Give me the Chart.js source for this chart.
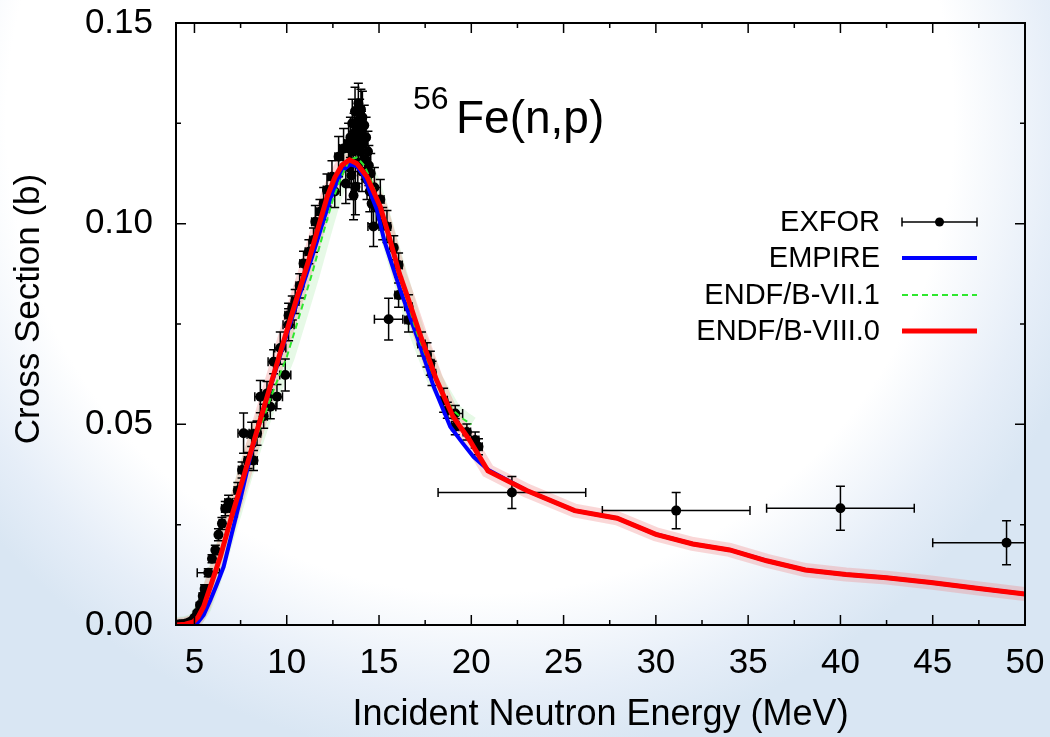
<!DOCTYPE html>
<html lang="en">
<head>
<meta charset="utf-8">
<title>56Fe(n,p) cross section</title>
<script src="https://cdn.jsdelivr.net/npm/chart.js@4.4.1/dist/chart.umd.min.js"></script>
<style>
  html, body { margin: 0; padding: 0; }
  body {
    width: 1050px;
    height: 737px;
    overflow: hidden;
    background: radial-gradient(ellipse 640px 640px at 480px 120px, #ffffff 74%, #e6eef8 90%, #d9e6f3 100%);
  }
  #xsChart { display: block; }
</style>
</head>
<body>
<canvas id="xsChart" width="1050" height="737"></canvas>
<script>
// EXFOR measurements (MeV, barn) with errors
const exforEnergy = [
    3.95, 4.1, 4.25, 4.4, 4.55, 4.7, 4.85, 5.0, 5.15, 5.3,
    5.45, 5.55, 5.75, 5.95, 6.13, 6.3, 6.49, 6.67, 6.85, 7.12,
    7.35, 7.58, 7.66, 7.9, 8.1, 8.2, 8.39, 8.57, 8.75, 8.93,
    9.11, 9.29, 9.47, 9.65, 9.92, 10.1, 10.1, 10.3, 10.46, 10.7,
    10.91, 11.2, 11.45, 11.55, 11.8, 12.0, 12.18, 12.45, 12.6, 12.81,
    13.08, 13.2, 13.35, 13.4, 13.45, 13.5, 13.55, 13.6, 13.62, 13.65,
    13.7, 13.72, 13.75, 13.8, 13.85, 13.88, 13.9, 13.95, 14.0, 14.02,
    14.05, 14.08, 14.1, 14.15, 14.2, 14.25, 14.3, 14.35, 14.4, 14.45,
    14.5, 14.55, 14.6, 14.7, 14.75, 14.85, 15.07, 15.2, 15.43, 15.52,
    15.8, 16.06, 16.06, 16.6, 16.6, 17.3, 17.6, 17.78, 17.87, 18.5,
    18.7, 19.13, 19.13, 19.76, 20.21, 20.39, 22.2, 31.1, 40.0, 49.0
];
const exforXS = [
    0.0000, 0.0001, 0.0002, 0.0002, 0.0004, 0.0006, 0.0010, 0.0018, 0.0030, 0.0050,
    0.0072, 0.0090, 0.0130, 0.0165, 0.0187, 0.0225, 0.0253, 0.0290, 0.0305, 0.0290,
    0.0335, 0.0386, 0.0478, 0.0410, 0.0475, 0.0410, 0.0478, 0.0569, 0.0520, 0.0577,
    0.0544, 0.0656, 0.0569, 0.0690, 0.0623, 0.0748, 0.0772, 0.0790, 0.0806, 0.0845,
    0.0901, 0.0930, 0.0959, 0.1005, 0.1030, 0.1050, 0.1084, 0.1117, 0.1080, 0.1167,
    0.1187, 0.1100, 0.1200, 0.1140, 0.1215, 0.1120, 0.1250, 0.1180, 0.1070, 0.1225,
    0.1280, 0.1092, 0.1195, 0.1240, 0.1150, 0.1300, 0.1210, 0.1260, 0.1180, 0.1285,
    0.1230, 0.1130, 0.1265, 0.1200, 0.1245, 0.1160, 0.1215, 0.1110, 0.1180, 0.1145,
    0.1080, 0.1125, 0.1050, 0.0993, 0.1090, 0.1040, 0.1060, 0.1000, 0.0993, 0.0762,
    0.0940, 0.0897, 0.0822, 0.0793, 0.0760, 0.0700, 0.0673, 0.0652, 0.0627, 0.0560,
    0.0535, 0.0527, 0.0494, 0.0481, 0.0461, 0.0444, 0.0330, 0.0285, 0.0291, 0.0205
];
const exforEnergyErr = [
    0.05, 0.05, 0.05, 0.05, 0.05, 0.05, 0.05, 0.05, 0.1, 0.1,
    0.1, 0.1, 0.6, 0.1, 0.1, 0.1, 0.15, 0.2, 0.2, 0.2,
    0.2, 0.2, 0.3, 0.2, 0.25, 0.2, 0.2, 0.3, 0.2, 0.3,
    0.3, 0.3, 0.3, 0.3, 0.3, 0.3, 0.2, 0.2, 0.2, 0.2,
    0.2, 0.2, 0.2, 0.2, 0.2, 0.2, 0.2, 0.2, 0.3, 0.2,
    0.2, 0.3, 0.2, 0.1, 0.1, 0.1, 0.1, 0.1, 0.15, 0.1,
    0.1, 0.2, 0.1, 0.1, 0.1, 0.15, 0.1, 0.1, 0.1, 0.1,
    0.1, 0.1, 0.1, 0.1, 0.1, 0.1, 0.1, 0.1, 0.1, 0.1,
    0.1, 0.1, 0.1, 0.3, 0.1, 0.1, 0.2, 0.1, 0.2, 0.77,
    0.15, 0.2, 0.2, 0.2, 0.2, 0.2, 0.2, 0.2, 0.2, 0.2,
    0.2, 0.4, 0.2, 0.2, 0.2, 0.2, 4.0, 4.0, 4.0, 4.0
];
const exforXSErr = [
    0.0003, 0.0003, 0.0003, 0.0003, 0.0003, 0.0003, 0.0003, 0.0004, 0.0005, 0.0006,
    0.0008, 0.0010, 0.0010, 0.0010, 0.0012, 0.0015, 0.0015, 0.0018, 0.0018, 0.0020,
    0.0020, 0.0020, 0.0050, 0.0020, 0.0030, 0.0025, 0.0030, 0.0040, 0.0030, 0.0030,
    0.0030, 0.0030, 0.0030, 0.0040, 0.0040, 0.0040, 0.0030, 0.0030, 0.0030, 0.0030,
    0.0030, 0.0030, 0.0030, 0.0040, 0.0030, 0.0040, 0.0040, 0.0040, 0.0040, 0.0050,
    0.0050, 0.0050, 0.0050, 0.0050, 0.0050, 0.0060, 0.0060, 0.0050, 0.0060, 0.0050,
    0.0060, 0.0070, 0.0050, 0.0050, 0.0050, 0.0050, 0.0050, 0.0050, 0.0050, 0.0050,
    0.0050, 0.0050, 0.0065, 0.0050, 0.0050, 0.0050, 0.0050, 0.0050, 0.0050, 0.0050,
    0.0050, 0.0050, 0.0050, 0.0050, 0.0050, 0.0050, 0.0050, 0.0040, 0.0040, 0.0052,
    0.0030, 0.0030, 0.0030, 0.0030, 0.0030, 0.0030, 0.0030, 0.0030, 0.0030, 0.0030,
    0.0020, 0.0020, 0.0020, 0.0020, 0.0020, 0.0020, 0.0040, 0.0045, 0.0055, 0.0055
];

// EMPIRE calculation
const empireEnergy = [
    3.96, 4.5, 5.0, 5.14, 5.5, 5.86, 6.2, 6.58, 7.03, 7.48,
    8.03, 8.6, 9.2, 9.8, 10.5, 11.1, 11.6, 12.0, 12.4, 12.72,
    13.1, 13.44, 13.8, 14.16, 14.5, 14.89, 15.3, 16.15, 17.06, 17.96,
    18.86, 19.5, 20.12, 20.93, 23.0, 25.6, 27.9, 30.0, 32.0, 34.0,
    36.0, 38.1, 40.3, 42.5, 44.9, 47.5, 50.0
];
const empireXS = [
    0.0, 0.0001, 0.0002, 0.0004, 0.0025, 0.0062, 0.0100, 0.0145, 0.0229, 0.0312,
    0.0420, 0.0515, 0.0605, 0.0695, 0.0795, 0.0878, 0.0950, 0.1010, 0.1065, 0.1105,
    0.1135, 0.1148, 0.1143, 0.1120, 0.1080, 0.1034, 0.0955, 0.0835, 0.0718, 0.0594,
    0.0494, 0.0455, 0.0419, 0.0386, 0.0335, 0.0285, 0.0266, 0.0226, 0.0202, 0.0187,
    0.0160, 0.0137, 0.0126, 0.0118, 0.0106, 0.0091, 0.0077
];

// ENDF/B-VII.1 evaluation
const vii1Energy = [
    3.96, 4.5, 5.0, 5.5, 5.9, 6.4, 7.12, 7.85, 8.57, 9.29,
    10.01, 10.73, 11.4, 12.0, 12.5, 13.0, 13.4, 13.8, 14.2, 14.6,
    15.0, 15.5, 16.0, 17.0, 18.0, 19.0, 19.6, 20.0
];
const vii1XS = [
    0.0, 0.0002, 0.0009, 0.0045, 0.0095, 0.0170, 0.0278, 0.0394, 0.0494, 0.0586,
    0.0669, 0.0777, 0.0880, 0.0980, 0.1060, 0.1120, 0.1160, 0.1165, 0.1145, 0.1105,
    0.1050, 0.0970, 0.0890, 0.0735, 0.0615, 0.0535, 0.0512, 0.0500
];

// ENDF/B-VIII.0 evaluation
const viii0Energy = [
    3.96, 4.5, 4.95, 5.2, 5.5, 5.86, 6.4, 7.0, 7.7, 8.4,
    9.1, 9.8, 10.5, 11.2, 11.8, 12.2, 12.6, 13.0, 13.4, 13.8,
    14.35, 15.07, 15.6, 16.1, 16.6, 17.2, 18.1, 19.0, 19.9, 20.9,
    23.0, 25.6, 27.9, 30.0, 32.0, 34.0, 36.0, 38.1, 40.3, 42.5,
    44.9, 47.5, 50.0
];
const viii0XS = [
    0.0, 0.0002, 0.0008, 0.0020, 0.0046, 0.0095, 0.0170, 0.0268, 0.0375, 0.0486,
    0.0594, 0.0702, 0.0808, 0.0910, 0.1005, 0.1068, 0.1115, 0.1146, 0.1159, 0.1150,
    0.1117, 0.1042, 0.0959, 0.0876, 0.0810, 0.0727, 0.0612, 0.0520, 0.0461, 0.0384,
    0.0335, 0.0285, 0.0266, 0.0226, 0.0202, 0.0187, 0.0160, 0.0137, 0.0126, 0.0118,
    0.0106, 0.0091, 0.0077
];

// axes
const xTickValues = [5, 10, 15, 20, 25, 30, 35, 40, 45, 50];
const xMinorTicks = [7.5, 12.5, 17.5, 22.5, 27.5, 32.5, 37.5, 42.5, 47.5];
const yTickValues = [0, 0.05, 0.10, 0.15];
const yMinorTicks = [0.025, 0.075, 0.125];

const FONT = "'Liberation Sans', Arial, Helvetica, sans-serif";
const CAP = 4.5;

const toPoints = (xs, ys) => xs.map((x, i) => ({ x: x, y: ys[i] }));

// the frame is placed by layout padding alone
const noScalePadding = s => {
    s.paddingTop = 0;
    s.paddingBottom = 0;
    s.paddingLeft = 0;
    s.paddingRight = 0;
};

// error bars drawn under the EXFOR markers
const errorBarPlugin = {
    id: 'errorBars',
    beforeDatasetDraw(chart, args) {
        if (chart.data.datasets[args.index].label !== 'EXFOR') return;
        const { ctx, chartArea: area } = chart;
        const xs = chart.scales.x, ys = chart.scales.y;
        ctx.save();
        ctx.beginPath();
        ctx.rect(area.left, area.top, area.right - area.left, area.bottom - area.top);
        ctx.clip();
        ctx.strokeStyle = '#000';
        ctx.lineWidth = 1.5;
        ctx.beginPath();
        exforEnergy.forEach((e, i) => {
            const px = xs.getPixelForValue(e);
            const py = ys.getPixelForValue(exforXS[i]);
            const x0 = xs.getPixelForValue(e - exforEnergyErr[i]);
            const x1 = xs.getPixelForValue(e + exforEnergyErr[i]);
            const y0 = ys.getPixelForValue(exforXS[i] - exforXSErr[i]);
            const y1 = ys.getPixelForValue(exforXS[i] + exforXSErr[i]);
            // horizontal bar + caps
            ctx.moveTo(x0, py); ctx.lineTo(x1, py);
            ctx.moveTo(x0, py - CAP); ctx.lineTo(x0, py + CAP);
            ctx.moveTo(x1, py - CAP); ctx.lineTo(x1, py + CAP);
            // vertical bar + caps
            ctx.moveTo(px, y0); ctx.lineTo(px, y1);
            ctx.moveTo(px - CAP, y0); ctx.lineTo(px + CAP, y0);
            ctx.moveTo(px - CAP, y1); ctx.lineTo(px + CAP, y1);
        });
        ctx.stroke();
        ctx.restore();
    }
};

// gnuplot-like frame with inward ticks on all four sides
const framePlugin = {
    id: 'frame',
    afterDatasetsDraw(chart) {
        const { ctx, chartArea: a } = chart;
        const xs = chart.scales.x, ys = chart.scales.y;
        ctx.save();
        ctx.strokeStyle = '#000';
        ctx.lineWidth = 1.5;
        ctx.beginPath();
        const xTick = (v, len) => {
            const p = xs.getPixelForValue(v);
            ctx.moveTo(p, a.bottom); ctx.lineTo(p, a.bottom - len);
            ctx.moveTo(p, a.top); ctx.lineTo(p, a.top + len);
        };
        const yTick = (v, len) => {
            const p = ys.getPixelForValue(v);
            ctx.moveTo(a.left, p); ctx.lineTo(a.left + len, p);
            ctx.moveTo(a.right, p); ctx.lineTo(a.right - len, p);
        };
        xTickValues.forEach(v => xTick(v, 10));
        xMinorTicks.forEach(v => xTick(v, 5));
        yTickValues.forEach(v => yTick(v, 10));
        yMinorTicks.forEach(v => yTick(v, 5));
        ctx.stroke();
        ctx.lineWidth = 2;
        ctx.strokeRect(a.left, a.top, a.right - a.left, a.bottom - a.top);
        ctx.restore();
    }
};

// reaction label, y title and the right-aligned legend
const labelPlugin = {
    id: 'labels',
    afterDraw(chart) {
        const ctx = chart.ctx;
        ctx.save();
        ctx.fillStyle = '#000';
        ctx.textBaseline = 'alphabetic';

        // 56Fe(n,p)
        ctx.textAlign = 'left';
        ctx.font = '32px ' + FONT;
        ctx.fillText('56', 413, 109);
        ctx.font = '46px ' + FONT;
        ctx.fillText('Fe(n,p)', 456, 133);

        // y axis title
        ctx.save();
        ctx.translate(29, 309);
        ctx.rotate(-Math.PI / 2);
        ctx.textAlign = 'center';
        ctx.textBaseline = 'middle';
        ctx.font = '35px ' + FONT;
        ctx.fillText('Cross Section (b)', 0, 0);
        ctx.restore();

        // legend
        const rows = ['EXFOR', 'EMPIRE', 'ENDF/B-VII.1', 'ENDF/B-VIII.0'];
        const rowY = [222, 258, 295, 331];
        const x0 = 902, x1 = 977;
        ctx.font = '29px ' + FONT;
        ctx.textAlign = 'right';
        ctx.textBaseline = 'middle';
        rows.forEach((label, i) => {
            const ds = chart.data.datasets.find(d => d.label === label);
            const y = rowY[i];
            ctx.fillStyle = '#000';
            ctx.fillText(label, 880, y + 1);
            ctx.save();
            if (label === 'EXFOR') {
                ctx.strokeStyle = '#000';
                ctx.lineWidth = 1.5;
                ctx.beginPath();
                ctx.moveTo(x0, y); ctx.lineTo(x1, y);
                ctx.moveTo(x0, y - CAP); ctx.lineTo(x0, y + CAP);
                ctx.moveTo(x1, y - CAP); ctx.lineTo(x1, y + CAP);
                ctx.stroke();
                ctx.beginPath();
                ctx.arc((x0 + x1) / 2, y, 4.5, 0, Math.PI * 2);
                ctx.fill();
            } else {
                ctx.strokeStyle = ds.borderColor;
                ctx.lineWidth = ds.borderWidth;
                ctx.setLineDash(ds.borderDash || []);
                ctx.beginPath();
                ctx.moveTo(x0, y); ctx.lineTo(x1, y);
                ctx.stroke();
            }
            ctx.restore();
        });
        ctx.restore();
    }
};

const lineStyle = { showLine: true, pointRadius: 0, pointHoverRadius: 0, fill: false, tension: 0 };

const xsChart = new Chart(document.getElementById('xsChart'), {
    type: 'line',
    data: {
        datasets: [
            Object.assign({ label: 'ENDF/B-VIII.0', data: toPoints(viii0Energy, viii0XS),
                borderColor: '#ff0000', borderWidth: 5, order: 0 }, lineStyle),
            Object.assign({ label: 'ENDF/B-VII.1', data: toPoints(vii1Energy, vii1XS),
                borderColor: '#2ee82e', borderWidth: 2, borderDash: [6, 4], order: 1 }, lineStyle),
            Object.assign({ label: 'EMPIRE', data: toPoints(empireEnergy, empireXS),
                borderColor: '#0000ff', borderWidth: 4, order: 2 }, lineStyle),
            {
                label: 'EXFOR', data: toPoints(exforEnergy, exforXS),
                showLine: false, pointRadius: 5, pointHoverRadius: 5,
                pointBackgroundColor: '#000', pointBorderColor: '#000', pointBorderWidth: 0,
                order: 3
            },
            // uncertainty bands
            Object.assign({ label: 'VIII.0 band', data: toPoints(viii0Energy, viii0XS),
                borderColor: 'rgba(238, 130, 130, 0.32)', borderWidth: 14, order: 4 }, lineStyle),
            Object.assign({ label: 'VII.1 band', data: toPoints(vii1Energy, vii1XS),
                borderColor: 'rgba(130, 225, 130, 0.2)', borderWidth: 16, order: 5 }, lineStyle)
        ]
    },
    options: {
        responsive: false,
        animation: false,
        devicePixelRatio: 1,
        layout: { padding: { top: 23, right: 25, left: 0, bottom: 0 } },
        plugins: {
            legend: { display: false },
            tooltip: { enabled: false },
            title: { display: false }
        },
        scales: {
            x: {
                type: 'linear',
                min: 4,
                max: 50,
                grid: { display: false, drawTicks: false },
                border: { display: false },
                afterBuildTicks: s => { s.ticks = xTickValues.map(v => ({ value: v })); },
                afterFit: s => { s.height = 112; noScalePadding(s); },
                ticks: {
                    color: '#000',
                    font: { family: FONT, size: 35 },
                    padding: 17,
                    maxRotation: 0,
                    callback: v => String(v)
                },
                title: {
                    display: true,
                    text: 'Incident Neutron Energy (MeV)',
                    color: '#000',
                    font: { family: FONT, size: 36 },
                    padding: { top: 0, bottom: 0 }
                }
            },
            y: {
                type: 'linear',
                min: 0,
                max: 0.15,
                grid: { display: false, drawTicks: false },
                border: { display: false },
                afterBuildTicks: s => { s.ticks = yTickValues.map(v => ({ value: v })); },
                afterFit: s => { s.width = 176; noScalePadding(s); },
                ticks: {
                    color: '#000',
                    font: { family: FONT, size: 35 },
                    padding: 23,
                    callback: v => v.toFixed(2)
                }
            }
        }
    },
    plugins: [errorBarPlugin, framePlugin, labelPlugin]
});
</script>
</body>
</html>
